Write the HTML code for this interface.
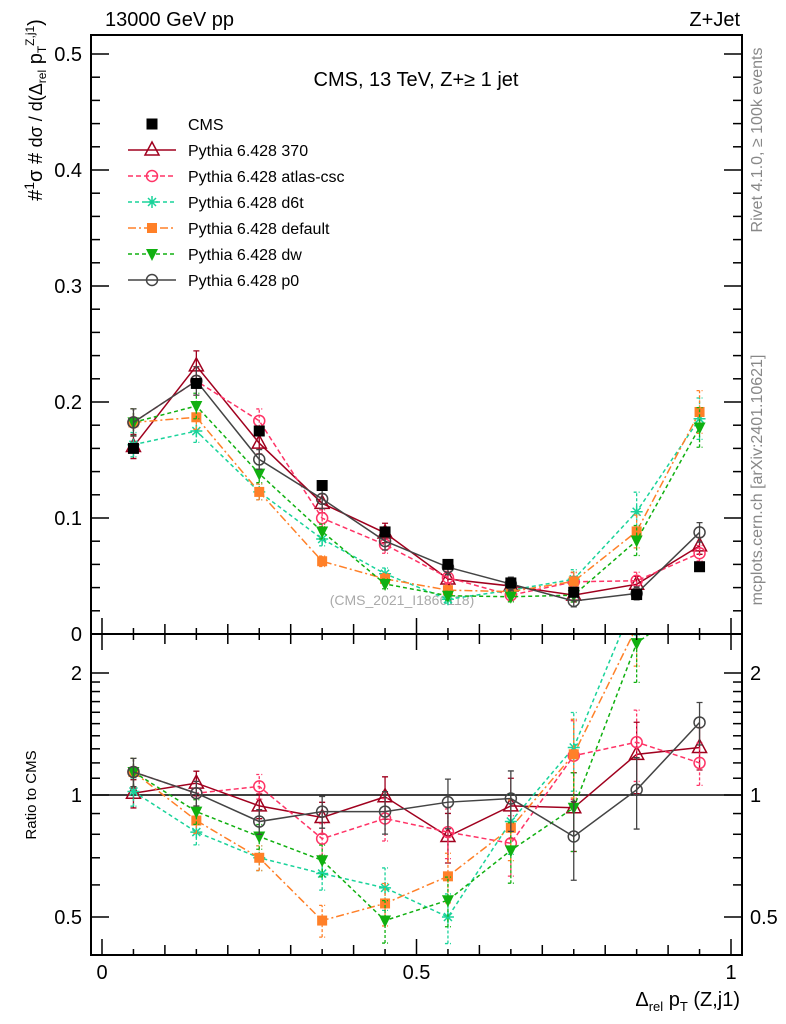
<!DOCTYPE html>
<html><head><meta charset="utf-8"><style>
body{margin:0;background:#fff;}
svg{display:block;font-family:"Liberation Sans",sans-serif;}
</style></head><body>
<svg id="plot" width="786" height="1024" xmlns="http://www.w3.org/2000/svg">
<text x="105" y="26" font-size="20">13000 GeV pp</text>
<text x="740" y="26" font-size="20" text-anchor="end">Z+Jet</text>
<text x="416" y="86" font-size="20" text-anchor="middle">CMS, 13 TeV, Z+≥ 1 jet</text>
<text x="402" y="605" font-size="14" fill="#aaa" text-anchor="middle">(CMS_2021_I1866118)</text>
<text transform="translate(762,140) rotate(-90)" font-size="16" fill="#888" text-anchor="middle">Rivet 4.1.0, ≥ 100k events</text>
<text transform="translate(762,480) rotate(-90)" font-size="16" fill="#888" text-anchor="middle">mcplots.cern.ch [arXiv:2401.10621]</text>
<g transform="translate(42,110) rotate(-90)">
<text x="0" y="0" font-size="20" text-anchor="middle">#<tspan font-size="14" dy="-8">1</tspan><tspan dy="8">σ</tspan> # <tspan font-size="18">dσ / d(Δ</tspan><tspan font-size="12" dy="4">rel</tspan><tspan dy="-4"> p</tspan><tspan font-size="12" dy="4">T</tspan><tspan font-size="12" dy="-12">Z,j1</tspan><tspan dy="8">)</tspan></text>
</g>
<text transform="translate(36,795) rotate(-90)" font-size="15" text-anchor="middle">Ratio to CMS</text>
<text x="740" y="1006" font-size="20" text-anchor="end">Δ<tspan font-size="13" dy="5">rel</tspan><tspan dy="-5"> p</tspan><tspan font-size="13" dy="5">T</tspan><tspan dy="-5"> (Z,j1)</tspan></text>
<defs>
<clipPath id="cm"><rect x="91" y="35" width="651" height="599"/></clipPath>
<clipPath id="cr"><rect x="91" y="634" width="651" height="321"/></clipPath>
</defs>
<g id="main" clip-path="url(#cm)"></g>
<g id="ratio" clip-path="url(#cr)"></g>
<g id="axes"></g>
<g id="legend"></g>
</svg>
<script>
const binCenters=[0.05,0.15,0.25,0.35,0.45,0.55,0.65,0.75,0.85,0.95];
const cmsValues=[0.160,0.216,0.175,0.128,0.088,0.060,0.044,0.036,0.034,0.058];
const cmsErrors=[0.004,0.004,0.004,0.003,0.003,0.002,0.002,0.002,0.002,0.002];
const ratio370=[1.01,1.07,0.94,0.88,0.99,0.79,0.94,0.93,1.26,1.31];
const ratioAtlas=[1.14,1.01,1.05,0.78,0.875,0.81,0.76,1.25,1.35,1.20];
const ratioD6t=[1.02,0.81,0.70,0.64,0.59,0.50,0.86,1.31,3.1,3.2];
const ratioDefault=[1.14,0.865,0.70,0.49,0.54,0.63,0.83,1.26,2.6,3.3];
const ratioDw=[1.14,0.91,0.79,0.69,0.49,0.55,0.73,0.93,2.37,3.07];
const ratioP0=[1.14,1.01,0.86,0.91,0.91,0.96,0.98,0.79,1.03,1.51];
const relErrors=[0.08,0.07,0.07,0.09,0.12,0.14,0.17,0.22,0.2,0.12];
const mainTicks=[0,0.1,0.2,0.3,0.4,0.5];
const mainTickLabels=["0","0.1","0.2","0.3","0.4","0.5"];
const ratioTicks=[0.5,1,2];
const ratioTickLabels=["0.5","1","2"];
const xTicks=[0,0.5,1];
const xTickLabels=["0","0.5","1"];

const NS="http://www.w3.org/2000/svg";
const X=v=>102+629*v;
const YM=v=>634-1160*v;
const YR=r=>795-122*Math.log2(r);
function mk(tag,attrs,parent){const e=document.createElementNS(NS,tag);for(const k in attrs)e.setAttribute(k,attrs[k]);parent.appendChild(e);return e;}
const main=document.getElementById('main'),ratio=document.getElementById('ratio'),axes=document.getElementById('axes'),legend=document.getElementById('legend');

const series=[
 {name:"Pythia 6.428 370",r:ratio370,col:"#a0001e",dash:"",mk:"tri"},
 {name:"Pythia 6.428 atlas-csc",r:ratioAtlas,col:"#ff3366",dash:"5,3",mk:"circ"},
 {name:"Pythia 6.428 d6t",r:ratioD6t,col:"#19d39a",dash:"4,3",mk:"star"},
 {name:"Pythia 6.428 default",r:ratioDefault,col:"#ff8028",dash:"8,3,2,3",mk:"sq"},
 {name:"Pythia 6.428 dw",r:ratioDw,col:"#10b010",dash:"4,3",mk:"tdown"},
 {name:"Pythia 6.428 p0",r:ratioP0,col:"#444",dash:"",mk:"circ"}
];
function marker(type,x,y,col,g){
 let e;
 if(type==="tri"){e=mk('polygon',{points:`${x},${y-8} ${x-7},${y+5} ${x+7},${y+5}`,fill:"none",stroke:col,'stroke-width':1.5},g);}
 else if(type==="circ"){e=mk('circle',{cx:x,cy:y,r:5.5,fill:"none",stroke:col,'stroke-width':1.5},g);}
 else if(type==="sq"){e=mk('rect',{x:x-5,y:y-5,width:10,height:10,fill:col},g);}
 else if(type==="bsq"){e=mk('rect',{x:x-5.5,y:y-5.5,width:11,height:11,fill:col},g);}
 else if(type==="tdown"){e=mk('polygon',{points:`${x},${y+7} ${x-6},${y-5} ${x+6},${y-5}`,fill:col},g);}
 else {e=mk('path',{d:`M${x-6},${y}H${x+6}M${x},${y-6}V${y+6}M${x-4},${y-4}L${x+4},${y+4}M${x-4},${y+4}L${x+4},${y-4}`,stroke:col,'stroke-width':1.5},g);}
 return e;
}
function drawSeries(s,g,yf,vals,errs,isRatio){
 const pts=binCenters.map((c,i)=>[X(c),yf(vals[i])]);
 const line=mk('polyline',{points:pts.map(p=>p.join(',')).join(' '),fill:"none",stroke:s.col,'stroke-width':1.5,'stroke-dasharray':s.dash},g);
 
 
 binCenters.forEach((c,i)=>{
  const lo=yf(vals[i]-errs[i]),hi=yf(vals[i]+errs[i]);
  mk('path',{d:`M${X(c)},${lo}V${hi}M${X(c)-3},${lo}H${X(c)+3}M${X(c)-3},${hi}H${X(c)+3}`,stroke:s.col,'stroke-width':1.3,'stroke-dasharray':s.dash?"3,2":""},g);
  const m=marker(s.mk,X(c),yf(vals[i]),s.col,g);
  
  
 });
}
// ratio unity line
const ul=mk('line',{x1:91,x2:742,y1:YR(1),y2:YR(1),stroke:"#000",'stroke-width':1.5},ratio);


series.forEach(s=>{
 const mv=s.r.map((r,i)=>r*cmsValues[i]);
 const me=mv.map((v,i)=>v*relErrors[i]*0.8);
 drawSeries(s,main,YM,mv,me,false);
 drawSeries(s,ratio,YR,s.r,s.r.map((r,i)=>r*relErrors[i]),true);
});
// CMS data
binCenters.forEach((c,i)=>{
 mk('line',{x1:X(c),x2:X(c),y1:YM(cmsValues[i]-cmsErrors[i]),y2:YM(cmsValues[i]+cmsErrors[i]),stroke:"#000",'stroke-width':1.5},main);
 const m=marker('bsq',X(c),YM(cmsValues[i]),"#000",main);
 
 
});
// frames
const f1=mk('rect',{x:91,y:35,width:651,height:599,fill:"none",stroke:"#000",'stroke-width':2},axes);


const f2=mk('rect',{x:91,y:634,width:651,height:321,fill:"none",stroke:"#000",'stroke-width':2},axes);


// x ticks
for(let k=0;k<=20;k++){const v=k*0.05,x=X(v),L=(k%10===0)?16:(k%2===0?10:6);
 mk('line',{x1:x,x2:x,y1:634,y2:634-L,stroke:"#000",'stroke-width':1.5},axes);
 mk('line',{x1:x,x2:x,y1:634,y2:634+L,stroke:"#000",'stroke-width':1.5},axes);
 mk('line',{x1:x,x2:x,y1:955,y2:955-L,stroke:"#000",'stroke-width':1.5},axes);}
xTicks.forEach((v,i)=>{const t=mk('text',{x:X(v),y:979,'font-size':20,'text-anchor':'middle'},axes);t.textContent=xTickLabels[i];
 
 });
// main y ticks
for(let k=0;k<=25;k++){const v=k*0.02,y=YM(v),L=(k%5===0)?18:9;if(y<35)continue;
 mk('line',{x1:91,x2:91+L,y1:y,y2:y,stroke:"#000",'stroke-width':1.5},axes);
 mk('line',{x1:742,x2:742-L,y1:y,y2:y,stroke:"#000",'stroke-width':1.5},axes);}
mainTicks.forEach((v,i)=>{const t=mk('text',{x:82,y:YM(v)+7,'font-size':20,'text-anchor':'end'},axes);t.textContent=mainTickLabels[i];
 
 });
// ratio y ticks
[0.4,0.5,0.6,0.7,0.8,0.9,1,1.1,1.2,1.3,1.4,1.5,1.6,1.7,1.8,1.9,2,2.5].forEach(v=>{const y=YR(v),L=ratioTicks.includes(v)?18:9;if(y<634||y>955)return;
 mk('line',{x1:91,x2:91+L,y1:y,y2:y,stroke:"#000",'stroke-width':1.5},axes);
 mk('line',{x1:742,x2:742-L,y1:y,y2:y,stroke:"#000",'stroke-width':1.5},axes);});
ratioTicks.forEach((v,i)=>{
 const t=mk('text',{x:82,y:YR(v)+7,'font-size':20,'text-anchor':'end'},axes);t.textContent=ratioTickLabels[i];
 
 
 const t2=mk('text',{x:750,y:YR(v)+7,'font-size':20},axes);t2.textContent=ratioTickLabels[i];
 
 });
// legend
const ly0=124,ldy=26;
const lc=mk('g',{},legend);


marker('bsq',152,ly0,"#000",lc);
mk('text',{x:188,y:ly0+6,'font-size':16},lc).textContent="CMS";
series.forEach((s,i)=>{const y=ly0+ldy*(i+1);
 const g=mk('g',{},legend);
 
 
 mk('line',{x1:128,x2:176,y1:y,y2:y,stroke:s.col,'stroke-width':1.5,'stroke-dasharray':s.dash},g);
 marker(s.mk,152,y,s.col,g);
 mk('text',{x:188,y:y+6,'font-size':16},g).textContent=s.name;});
</script>
</body></html>
